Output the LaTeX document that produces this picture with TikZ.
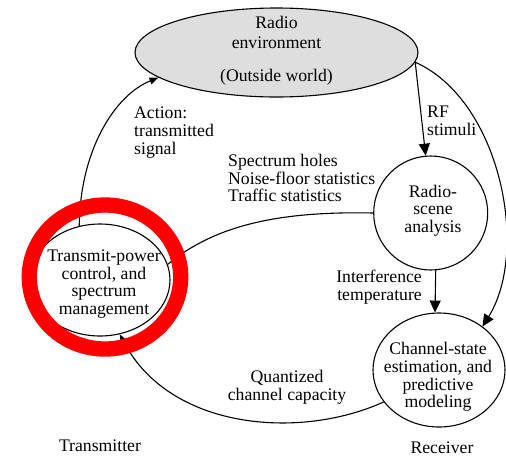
\documentclass[tikz,border=0pt]{standalone}
\usepackage{fontspec}
\setmainfont{Liberation Serif}
\usetikzlibrary{arrows.meta,shapes.geometric}
\tikzset{
  proc/.style={draw, line width=1.1pt, inner sep=0pt},
  txt/.style={inner sep=0pt, align=center, font=\fontsize{17.7}{17.6}\selectfont},
  lbl/.style={inner sep=0pt, font=\fontsize{17.7}{17.6}\selectfont},
  conn/.style={line width=1.1pt},
  bigtip/.style={-{Triangle[length=12pt,width=11pt]}},
  smalltip/.style={-{Triangle[length=9pt,width=7pt]}}
}
\begin{document}
\begin{tikzpicture}[x=1pt,y=-1pt]
\useasboundingbox (0,0) rectangle (506,456);

% processing blocks
\node[proc, shape=ellipse, fill=black!13, minimum width=283pt, minimum height=89pt] (env) at (276.5,52.5) {};
\node[txt, font=\fontsize{17.7}{20}\selectfont] (envtxt) at (276.5,51.2) {Radio\\environment\\[13pt](Outside world)};

\node[proc, shape=circle, minimum size=114pt] (scene) at (430.7,213) {};
\node[txt] (scenetxt) at (433,210.5) {Radio-\\scene\\analysis};

\node[proc, shape=ellipse, minimum width=132pt, minimum height=114pt] (cs) at (439,370) {};
\node[txt] (cstxt) at (438,377) {Channel-state\\estimation, and\\predictive\\modeling};

\node[proc, shape=ellipse, minimum width=140pt, minimum height=112pt] (tpc) at (100,280) {};
\node[txt] (tpctxt) at (104,284) {Transmit-power\\control, and\\spectrum\\management};

% labels
\node[lbl, anchor=west, align=left] (act) at (134,132.5) {Action:\\transmitted\\signal};
\node[lbl, anchor=west, align=left] (obs) at (228,178) {Spectrum holes\\Noise-floor statistics\\Traffic statistics};
\node[lbl, anchor=west, align=left] (rf) at (427,120.5) {RF\\stimuli};
\node[lbl, anchor=east, align=right] (intf) at (422,287) {Interference\\temperature};
\node[lbl, align=center] (qcc) at (287,387) {Quantized\\channel capacity};
\node[lbl, anchor=base] (tx) at (100,451) {Transmitter};
\node[lbl, anchor=base] (rx) at (442,453) {Receiver};

% connectors
\draw[conn, smalltip] (tpc.111) .. controls (80,150) and (115,95) .. (env.192);
\draw[conn, bigtip] (env.356) -- (scene.95);
\draw[conn, bigtip] (env.356) .. controls (500,100) and (530,250) .. (cs.45);
\draw[conn] (scene.180) .. controls (280,211) and (215,225) .. (tpc.13);
\draw[conn, bigtip] (scene.275) -- (cs.94);
\draw[conn, smalltip] (cs.210) .. controls (300,440) and (170,430) .. (tpc.290);

% highlight ring
\draw[red, line width=15.3pt] (105,277) ellipse [x radius=75.7pt, y radius=72pt];
\end{tikzpicture}
\end{document}
